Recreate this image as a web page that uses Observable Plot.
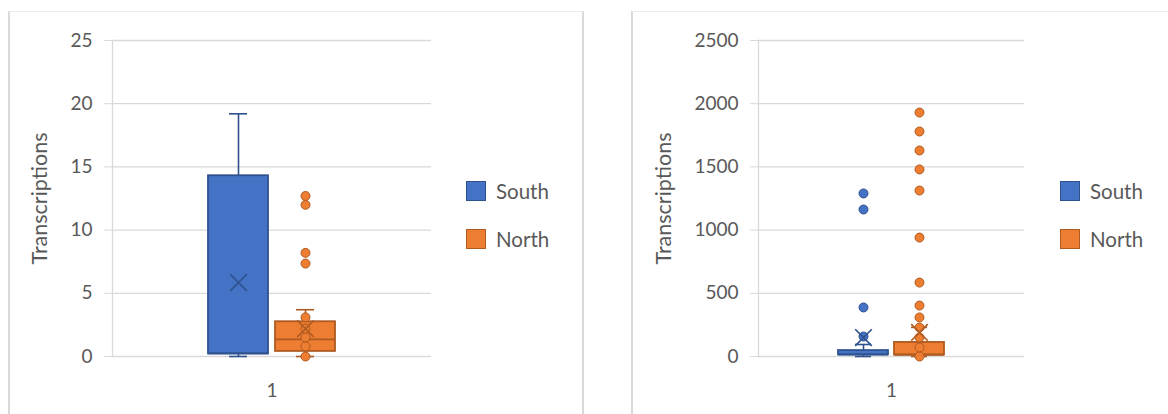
<!DOCTYPE html>
<html>
<head>
<meta charset="utf-8">
<script src="https://cdn.jsdelivr.net/npm/d3@7"></script>
<script src="https://cdn.jsdelivr.net/npm/@observablehq/plot@0.6"></script>
<style>
  body { margin: 0; background: #fff; font-family: Lato, sans-serif; }
  #page { position: relative; width: 1168px; height: 414px; overflow: hidden; background: #fff; }
  .panel { position: absolute; box-sizing: border-box; border: 2px solid #d9d9d9; border-top: 1px solid #ececec; }
  .chart { position: absolute; }
  .legend { position: absolute; font: 20.5px Lato, sans-serif; color: #595959; }
  .item { position: absolute; left: 0; display: flex; align-items: center; white-space: nowrap; }
  .sw { width: 18px; height: 18px; margin-right: 10px; border: 1px solid; }
</style>
</head>
<body>
<div id="page">
  <div class="panel" style="left:8px; top:11px; width:576px; height:420px;"></div>
  <div class="panel" style="left:631px; top:11px; width:560px; height:420px;"></div>
  <div id="left" class="chart" style="left:10px; top:12px;"></div>
  <div id="right" class="chart" style="left:633px; top:12px;"></div>
  <div id="legendLeft" class="legend" style="left:466px; top:179px;"></div>
  <div id="legendRight" class="legend" style="left:1060px; top:179px;"></div>
</div>
<script>
// Series and category
const series = ["South", "North"];
const group = "1";
const fills = ["#4472C4", "#ED7D31"];
const edges = ["#2F528F", "#AE5A21"];

// Left chart: box statistics (South, North)
const smallQ1 = [0.2, 0.4];
const smallMedian = [0.25, 1.35];
const smallQ3 = [14.3, 2.75];
const smallLow = [0, 0];
const smallHigh = [19.2, 3.7];
const smallMean = [5.85, 2.2];
const smallPointsSouth = [];
const smallPointsNorth = [12.7, 12.0, 8.2, 7.35, 3.1, 2.2, 1.5, 0.8, 0];
const smallTicks = [0, 5, 10, 15, 20, 25];

// Right chart: box statistics (South, North)
const largeQ1 = [13, 12];
const largeMedian = [15, 14];
const largeQ3 = [47, 111];
const largeLow = [0, 0];
const largeHigh = [95, 230];
const largeMean = [150, 190];
const largePointsSouth = [1290, 1163, 388, 158];
const largePointsNorth = [1930, 1780, 1630, 1480, 1313, 941, 585, 403, 309, 229, 150, 71, 0];
const largeTicks = [0, 500, 1000, 1500, 2000, 2500];

function boxChart({q1, median, q3, low, high, mean, points, ticks, width, marginLeft, marginRight, capInset, labelOffset}) {
  const boxes = series.map((s, i) => ({
    series: s, group, q1: q1[i], median: median[i], q3: q3[i], low: low[i], high: high[i], mean: mean[i]
  }));
  const marks = [
    Plot.gridY(ticks, {stroke: "#d9d9d9", strokeOpacity: 1, strokeWidth: 1.3}),
    Plot.frame({anchor: "left", stroke: "#d9d9d9", strokeWidth: 1.3}),
    Plot.axisY(ticks, {
      tickSize: 8, tickPadding: 12, tickFormat: d => String(d),
      stroke: "#d9d9d9", fill: "#595959", label: null
    }),
    // axis title drawn on its own so it can be set larger than the tick labels
    Plot.axisY([], {
      tickSize: 0, fill: "#595959", fontSize: 21.5,
      label: "Transcriptions", labelAnchor: "center", labelArrow: "none", labelOffset
    }),
    Plot.axisFx({anchor: "bottom", tickSize: 0, tickPadding: 27, label: null, fill: "#595959"})
  ];
  series.forEach((s, i) => {
    const b = boxes.filter(d => d.series === s);
    const pts = points[i].map(v => ({series: s, group, value: v}));
    marks.push(
      Plot.ruleX(b, {x: "series", fx: "group", y1: "low", y2: "high", stroke: edges[i], strokeWidth: 1.6}),
      Plot.tickY(b, {x: "series", fx: "group", y: "high", stroke: edges[i], strokeWidth: 1.6, insetLeft: capInset, insetRight: capInset}),
      Plot.tickY(b, {x: "series", fx: "group", y: "low", stroke: edges[i], strokeWidth: 1.6, insetLeft: capInset, insetRight: capInset}),
      Plot.barY(b, {x: "series", fx: "group", y1: "q1", y2: "q3", fill: fills[i], stroke: edges[i], strokeWidth: 1.8}),
      Plot.tickY(b, {x: "series", fx: "group", y: "median", stroke: edges[i], strokeWidth: 1.8}),
      Plot.dot(pts, {x: "series", fx: "group", y: "value", r: 4.5, fill: fills[i], stroke: edges[i], strokeWidth: 1}),
      Plot.dot(b, {x: "series", fx: "group", y: "mean", symbol: "times", r: 7.6, stroke: edges[i], strokeWidth: 1.6})
    );
  });
  return Plot.plot({
    width, height: 400,
    marginTop: 28, marginBottom: 56, marginLeft, marginRight,
    style: {fontFamily: "Lato, sans-serif", fontSize: "19px", color: "#595959", background: "transparent", overflow: "visible"},
    fx: {domain: [group], padding: 0},
    x: {domain: series, paddingInner: 0.1, paddingOuter: 1.42, axis: null},
    y: {domain: [0, ticks[ticks.length - 1]]},
    marks
  });
}

function legend(el) {
  series.forEach((s, i) => {
    const item = document.createElement("div");
    item.className = "item";
    item.style.top = (i * 48) + "px";
    const sw = document.createElement("span");
    sw.className = "sw";
    sw.style.background = fills[i];
    sw.style.borderColor = edges[i];
    const label = document.createElement("span");
    label.textContent = s;
    item.append(sw, label);
    el.append(item);
  });
}

document.getElementById("left").append(boxChart({
  q1: smallQ1, median: smallMedian, q3: smallQ3, low: smallLow, high: smallHigh, mean: smallMean,
  points: [smallPointsSouth, smallPointsNorth], ticks: smallTicks,
  width: 440, marginLeft: 102, marginRight: 19, capInset: 21, labelOffset: 81
}));
document.getElementById("right").append(boxChart({
  q1: largeQ1, median: largeMedian, q3: largeQ3, low: largeLow, high: largeHigh, mean: largeMean,
  points: [largePointsSouth, largePointsNorth], ticks: largeTicks,
  width: 420, marginLeft: 125, marginRight: 29, capInset: 17, labelOffset: 103
}));
legend(document.getElementById("legendLeft"));
legend(document.getElementById("legendRight"));
</script>
</body>
</html>
